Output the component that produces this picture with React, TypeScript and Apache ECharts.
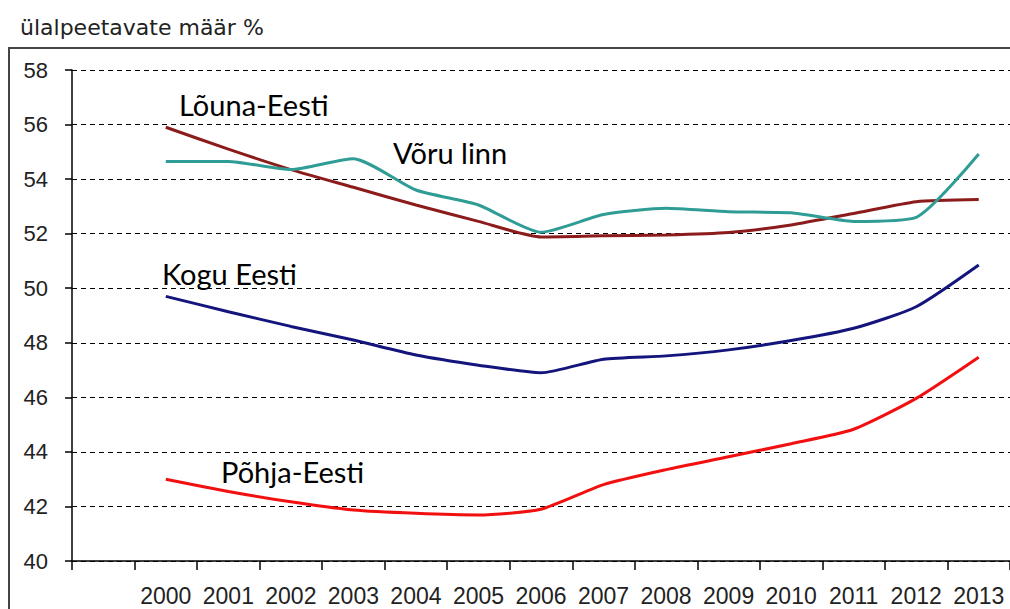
import React, { useEffect, useRef } from "react";
import * as echarts from "echarts";

const years = ["2000", "2001", "2002", "2003", "2004", "2005", "2006", "2007", "2008", "2009", "2010", "2011", "2012", "2013"];
const lounaEesti = [55.9, 55.1, 54.35, 53.7, 53.05, 52.45, 51.88, 51.92, 51.95, 52.04, 52.32, 52.74, 53.17, 53.25];
const voruLinn = [54.65, 54.65, 54.35, 54.75, 53.6, 53.05, 52.05, 52.7, 52.93, 52.8, 52.77, 52.45, 52.6, 54.92];
const koguEesti = [49.7, 49.14, 48.6, 48.1, 47.55, 47.18, 46.9, 47.4, 47.52, 47.74, 48.08, 48.53, 49.32, 50.85];
const pohjaEesti = [43.0, 42.55, 42.17, 41.87, 41.75, 41.69, 41.9, 42.8, 43.35, 43.82, 44.3, 44.83, 45.96, 47.47];
const yTicks = { min: 40, max: 58, interval: 2 };
const titleText = "ülalpeetavate määr %";

export default function App() {
  const ref = useRef<HTMLDivElement>(null);
  useEffect(() => {
    if (!ref.current) return;
    const chart = echarts.init(ref.current, null, { renderer: "svg" });
    const cats = ["", ...years];
    const pad = (a: number[]) => [null, ...a];
    const mk = (name: string, data: number[], color: string) => ({
      name,
      type: "line",
      data: pad(data),
      smooth: 0.2,
      showSymbol: false,
      symbol: "none",
      lineStyle: { color, width: 3 },
      itemStyle: { color },
    });
    const annFont = "Lato";
    const annSize = 29;
    chart.setOption({
      animation: false,
      backgroundColor: "#fff",
      grid: { left: 72, top: 70, width: 941, height: 491, containLabel: false },
      xAxis: {
        type: "category",
        data: cats,
        boundaryGap: true,
        axisLine: { lineStyle: { color: "#000", width: 1.5 } },
        axisTick: { show: true, length: 9, interval: 0, lineStyle: { color: "#000", width: 1.5 } },
        axisLabel: { interval: 0, margin: 23, fontSize: 23, fontFamily: "Liberation Sans", color: "#222" },
        splitLine: { show: false },
      },
      yAxis: {
        type: "value",
        min: yTicks.min,
        max: yTicks.max,
        interval: yTicks.interval,
        axisLine: { show: true, lineStyle: { color: "#000", width: 1.5 } },
        axisTick: { show: true, length: 7, lineStyle: { color: "#000", width: 1.5 } },
        axisLabel: { margin: 24, fontSize: 22, fontFamily: "Liberation Sans", color: "#222" },
        splitLine: { show: true, lineStyle: { color: "#000", width: 1, type: [5, 4] } },
      },
      series: [
        mk("Lõuna-Eesti", lounaEesti, "#8C1C1C"),
        mk("Võru linn", voruLinn, "#2F9D95"),
        mk("Kogu Eesti", koguEesti, "#14147D"),
        mk("Põhja-Eesti", pohjaEesti, "#F20F0F"),
      ],
      graphic: [
        {
          type: "rect",
          shape: { x: 9, y: 48, width: 1020, height: 620 },
          style: { fill: "none", stroke: "#444", lineWidth: 2 },
          silent: true,
        },
        {
          type: "text",
          x: 20,
          y: 27,
          style: { text: titleText, fontSize: 22, fontFamily: "DejaVu Sans", fill: "#222", align: "left", verticalAlign: "middle" },
        },
        {
          type: "text",
          x: 179,
          y: 104,
          style: { text: "Lõuna-Eesti", fontSize: annSize, fontFamily: annFont, fill: "#000", align: "left", verticalAlign: "middle" },
        },
        {
          type: "text",
          x: 393,
          y: 152,
          style: { text: "Võru linn", fontSize: annSize, fontFamily: annFont, fill: "#000", align: "left", verticalAlign: "middle" },
        },
        {
          type: "text",
          x: 162,
          y: 273,
          style: { text: "Kogu Eesti", fontSize: annSize, fontFamily: annFont, fill: "#000", align: "left", verticalAlign: "middle" },
        },
        {
          type: "text",
          x: 221,
          y: 471,
          style: { text: "Põhja-Eesti", fontSize: annSize, fontFamily: annFont, fill: "#000", align: "left", verticalAlign: "middle" },
        },
      ],
    });
    return () => chart.dispose();
  }, []);
  return <div ref={ref} style={{ position: "absolute", left: 0, top: 0, width: 1010, height: 609 }} />;
}
